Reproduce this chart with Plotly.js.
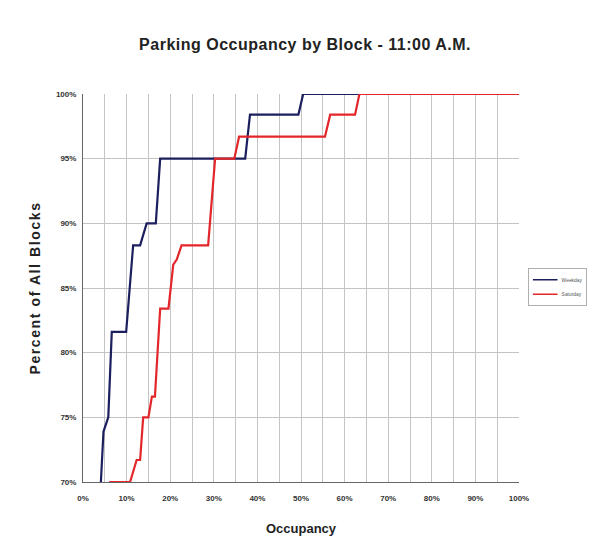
<!DOCTYPE html>
<html>
<head>
<meta charset="utf-8">
<script src="https://cdn.plot.ly/plotly-3.0.1.min.js"></script>
<style>
html,body{margin:0;padding:0;background:#fff;}
#chart{width:597px;height:556px;}
.ytitle{letter-spacing:1.6px;}
.gtitle{letter-spacing:0.5px;}
.infolayer .legend{transform:translate(528px,268px) scale(0.82,0.76);}
</style>
</head>
<body>
<div id="chart"></div>
<script>
// Occupancy (%) and cumulative percent of all blocks
const weekdayX = [4.1, 4.7, 5.8, 6.6, 9.9, 11.5, 13.1, 14.6, 16.7, 17.7, 37.2, 38.3, 49.4, 50.5, 100];
const weekdayY = [70, 73.9, 75.0, 81.6, 81.6, 88.3, 88.3, 90.0, 90.0, 95.0, 95.0, 98.4, 98.4, 100, 100];
const saturdayX = [6.0, 10.8, 12.3, 13.1, 13.8, 15.0, 15.8, 16.5, 17.7, 19.6, 20.7, 21.5, 22.6, 28.7, 30.3, 34.7, 35.8, 55.5, 56.7, 62.4, 63.4, 100];
const saturdayY = [70, 70, 71.7, 71.7, 75.0, 75.0, 76.6, 76.6, 83.4, 83.4, 86.8, 87.2, 88.3, 88.3, 95.0, 95.0, 96.7, 96.7, 98.4, 98.4, 100, 100];
const seriesNames = ["Weekday", "Saturday"];
const xTicks = [0, 10, 20, 30, 40, 50, 60, 70, 80, 90, 100];
const xTickText = ["0%", "10%", "20%", "30%", "40%", "50%", "60%", "70%", "80%", "90%", "100%"];
const yTicks = [70, 75, 80, 85, 90, 95, 100];
const yTickText = ["70%", "75%", "80%", "85%", "90%", "95%", "100%"];

const traces = [
  {x: weekdayX, y: weekdayY, name: seriesNames[0], mode: 'lines', type: 'scatter',
   line: {color: '#1c1f5e', width: 2.2}},
  {x: saturdayX, y: saturdayY, name: seriesNames[1], mode: 'lines', type: 'scatter',
   line: {color: '#e3262a', width: 2.2}}
];

const layout = {
  width: 597, height: 556,
  paper_bgcolor: '#ffffff', plot_bgcolor: '#ffffff',
  margin: {l: 83, r: 78, t: 94, b: 74, autoexpand: false},
  font: {family: 'Liberation Sans, Arial, sans-serif', color: '#222'},
  title: {text: 'Parking Occupancy by Block - 11:00 A.M.', x: 0.511, xanchor: 'center', y: 0.92, yanchor: 'middle',
          font: {size: 16, weight: 'bold', color: '#222'}},
  xaxis: {
    range: [0, 100], tickmode: 'array', tickvals: xTicks, ticktext: xTickText,
    showgrid: true, gridcolor: '#c4c4c4', gridwidth: 1,
    minor: {dtick: 5, showgrid: true, gridcolor: '#c4c4c4', gridwidth: 1},
    showline: true, linecolor: '#666', linewidth: 1, mirror: false,
    ticks: '', zeroline: false, ticklabelstandoff: 8,
    tickfont: {size: 8, weight: 'bold', color: '#333'},
    title: {text: 'Occupancy', font: {size: 13, weight: 'bold', color: '#222'}, standoff: 22}
  },
  yaxis: {
    range: [70, 100], tickmode: 'array', tickvals: yTicks, ticktext: yTickText,
    showgrid: true, gridcolor: '#c4c4c4', gridwidth: 1,
    showline: true, linecolor: '#666', linewidth: 1,
    ticks: '', zeroline: false, ticklabelstandoff: 4,
    tickfont: {size: 8, weight: 'bold', color: '#333'},
    title: {text: 'Percent of All Blocks', font: {size: 14, weight: 'bold', color: '#222'}, standoff: 12}
  },
  showlegend: true,
  legend: {x: 1.02, y: 0.551, xanchor: 'left', yanchor: 'top',
           bgcolor: '#ffffff', bordercolor: '#999', borderwidth: 1,
           font: {size: 6, color: '#555'}, tracegroupgap: 0, itemwidth: 30}
};

Plotly.newPlot('chart', traces, layout, {staticPlot: true, displayModeBar: false});
</script>
</body>
</html>
